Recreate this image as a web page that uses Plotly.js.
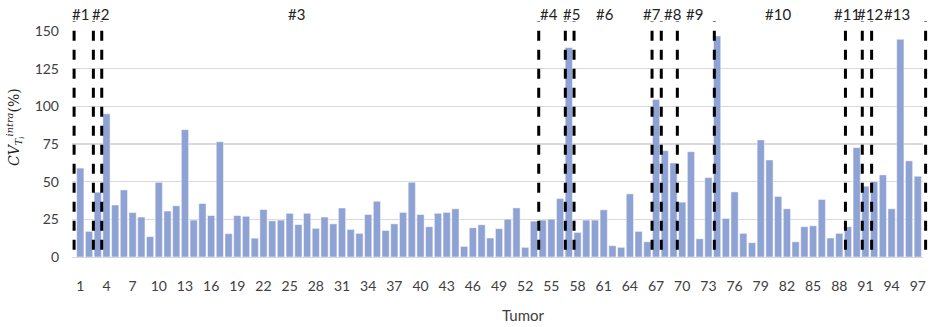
<!DOCTYPE html>
<html><head><meta charset="utf-8">
<script src="https://cdn.plot.ly/plotly-3.0.1.min.js"></script>
<style>html,body{margin:0;padding:0;background:#fff}</style>
</head><body><div id="chart" style="width:930px;height:327px"></div>
<script>
const tumors = [1,2,3,4,5,6,7,8,9,10,11,12,13,14,15,16,17,18,19,20,21,22,23,24,25,26,27,28,29,30,31,32,33,34,35,36,37,38,39,40,41,42,43,44,45,46,47,48,49,50,51,52,53,54,55,56,57,58,59,60,61,62,63,64,65,66,67,68,69,70,71,72,73,74,75,76,77,78,79,80,81,82,83,84,85,86,87,88,89,90,91,92,93,94,95,96,97];
const cvIntra = [59,17,43,95,34.5,44.5,29.5,26.5,13.5,49.5,30.5,34,84.5,24.5,35.5,27.5,76.5,15.5,27.5,27,
  12.5,31.5,24,24.5,29,21.5,29,19,26.5,22,32.5,18.3,15.7,28.2,37,17.6,22,29.6,49.6,28.2,
  20.1,29,29.6,32,7,19.4,21.4,12.6,18.8,25.1,32.6,6.4,23.8,24.5,25.1,38.8,139,16.3,24.5,24.5,
  31.3,7.5,6.4,41.9,17,10.1,104.6,70.6,62.4,36.4,69.9,12.1,52.7,146.7,25.6,43.2,15.7,9.5,77.7,64.4,
  40.2,32,10.1,20.1,20.7,38.2,12.6,15.7,20.1,72.6,47,50.1,54.5,32,144.5,63.8,53.6];
const xTickVals = [1,4,7,10,13,16,19,22,25,28,31,34,37,40,43,46,49,52,55,58,61,64,67,70,73,76,79,82,85,88,91,94,97];
const groupBounds = [0.29,2.5,3.46,53.55,56.6,57.6,66.54,67.6,69.44,73.68,88.71,90.64,91.71,97.9];
const groupLabels = ['#1','#2','#3','#4','#5','#6','#7','#8','#9','#10','#11','#12','#13'];
const groupLabelPos = [0.98,3.27,25.8,54.77,57.33,61.15,66.57,68.86,71.46,81.0,88.85,91.52,94.65];

const xr = [0.05, 97.6];
const yr = [0, 150];
const toPaperX = d => (d - xr[0]) / (xr[1] - xr[0]);

const shapes = groupBounds.map(b => ({
  type:'line', xref:'paper', yref:'paper',
  x0: toPaperX(b), x1: toPaperX(b), y0: 4.8/150, y1: 156.4/150,
  line:{color:'#000', width:3, dash:'10px,9px'}
}));
const annotations = groupLabels.map((t,i)=>({
  text:t, x:toPaperX(groupLabelPos[i]), xref:'paper', y:161.5/150, yref:'paper', showarrow:false,
  xanchor:'center', yanchor:'middle', font:{family:'Lato, sans-serif', size:15, color:'#222'}
}));
annotations.push({text:'Tumor', xref:'paper', yref:'paper', x:0.53, y:-0.255, showarrow:false,
  xanchor:'center', yanchor:'middle', font:{family:'Lato, sans-serif', size:15, color:'#404040'}});
annotations.push({text:'<i>CV</i><sub><i>T<sub>i</sub></i></sub><sup><i>intra</i></sup>(%)', xref:'paper', yref:'paper',
  x:-0.067, y:0.575, textangle:-90, showarrow:false, xanchor:'center', yanchor:'middle',
  font:{family:'DejaVu Serif, serif', size:14, color:'#222'}});

const trace = {type:'bar', x:tumors, y:cvIntra, marker:{color:'#8FA2D4', line:{color:'rgba(255,255,255,0.6)', width:0.8}},
  hoverinfo:'x+y'};

const layout = {
  width:930, height:327, margin:{l:72, r:7, t:31, b:70},
  paper_bgcolor:'#fff', plot_bgcolor:'#fff', bargap:0.17, showlegend:false,
  font:{family:'Lato, sans-serif', size:14, color:'#595959'},
  xaxis:{range:xr, tickmode:'array', tickvals:xTickVals, ticktext:xTickVals.map(String),
    showgrid:false, zeroline:false, showline:true, linecolor:'#d9d9d9', linewidth:1.3,
    ticks:'', ticklabelstandoff:16, tickfont:{size:14, color:'#404040'}},
  yaxis:{range:yr, tickvals:[0,25,50,75,100,125,150], showgrid:true, gridcolor:'#d9d9d9', gridwidth:1.3,
    zeroline:false, showline:false, ticks:'', ticklabelstandoff:12, tickfont:{size:14, color:'#404040'}},
  shapes:shapes, annotations:annotations
};
Plotly.newPlot('chart', [trace], layout, {displayModeBar:false, staticPlot:true});
</script></body></html>
